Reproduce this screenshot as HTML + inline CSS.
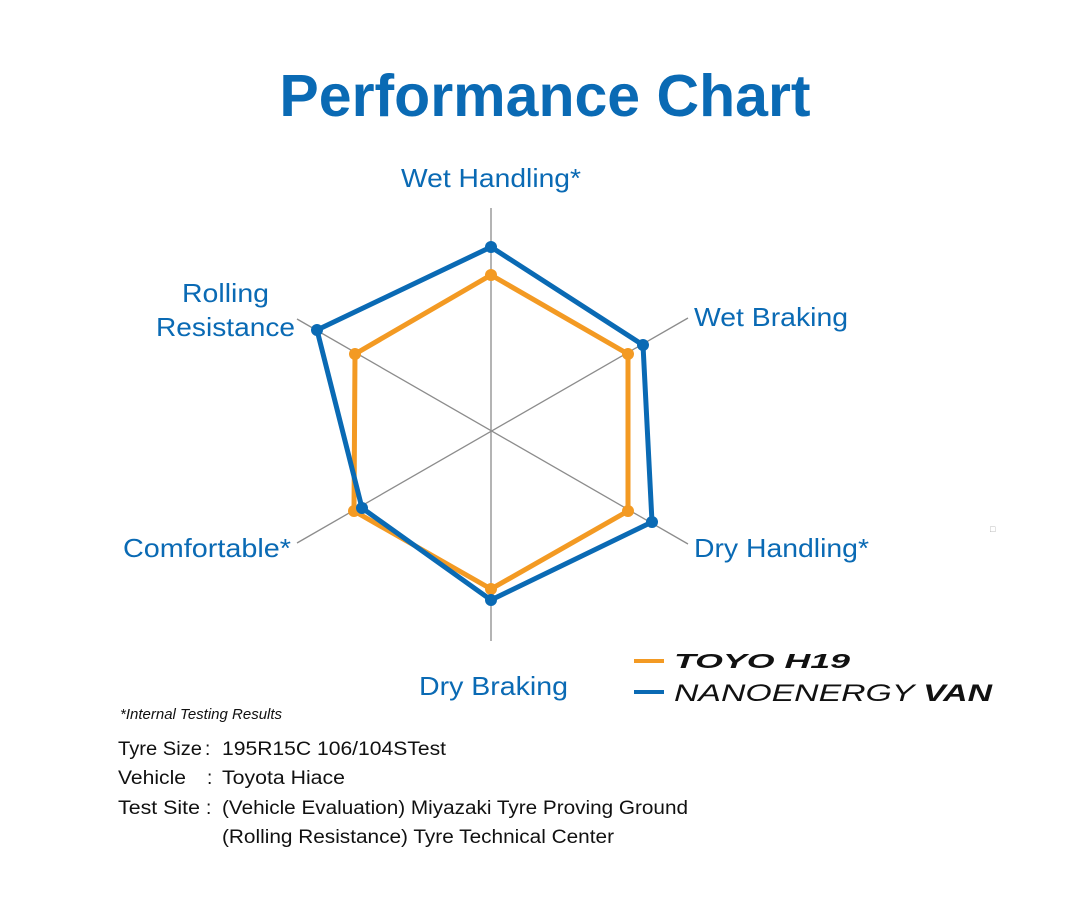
<!DOCTYPE html>
<html><head><meta charset="utf-8"><style>
body{margin:0;width:1087px;height:915px;background:#fff;overflow:hidden;font-family:"Liberation Sans",Arial,sans-serif}
svg{position:absolute;left:0;top:0}
</style></head><body>
<svg width="1087" height="915" viewBox="0 0 1087 915" font-family="Liberation Sans, Arial, sans-serif">
<text x="545" y="116" text-anchor="middle" font-size="59" font-weight="bold" fill="#0a6ab4">Performance Chart</text>
<g stroke="#8c8c8c" stroke-width="1.3">
<line x1="491" y1="208" x2="491" y2="641"/>
<line x1="297" y1="319" x2="688" y2="544"/>
<line x1="297" y1="543" x2="688" y2="318"/>
</g>
<g fill="#0a6ab4" font-size="26">
<text x="401" y="187" textLength="180" lengthAdjust="spacingAndGlyphs">Wet Handling*</text>
<text x="694" y="326" textLength="154" lengthAdjust="spacingAndGlyphs">Wet Braking</text>
<text x="694" y="557" textLength="175" lengthAdjust="spacingAndGlyphs">Dry Handling*</text>
<text x="419" y="695" textLength="149" lengthAdjust="spacingAndGlyphs">Dry Braking</text>
<text x="123" y="557" textLength="168" lengthAdjust="spacingAndGlyphs">Comfortable*</text>
<text x="182" y="302" textLength="87" lengthAdjust="spacingAndGlyphs">Rolling</text>
<text x="156" y="336" textLength="139" lengthAdjust="spacingAndGlyphs">Resistance</text>
</g>
<polygon points="491,275 628,354 628,511 491,589 354,511 355,354" fill="none" stroke="#f39a23" stroke-width="5" stroke-linejoin="round"/>
<g fill="#f39a23">
<circle cx="491" cy="275" r="6"/><circle cx="628" cy="354" r="6"/><circle cx="628" cy="511" r="6"/><circle cx="491" cy="589" r="6"/><circle cx="354" cy="511" r="6"/><circle cx="355" cy="354" r="6"/>
</g>
<polygon points="491,247 643,345 652,522 491,600 362,508 317,330" fill="none" stroke="#0a6ab4" stroke-width="5" stroke-linejoin="round"/>
<g fill="#0a6ab4">
<circle cx="491" cy="247" r="6"/><circle cx="643" cy="345" r="6"/><circle cx="652" cy="522" r="6"/><circle cx="491" cy="600" r="6"/><circle cx="362" cy="508" r="6"/><circle cx="317" cy="330" r="6"/>
</g>
<line x1="634" y1="661" x2="664" y2="661" stroke="#f39a23" stroke-width="4"/>
<line x1="634" y1="692" x2="664" y2="692" stroke="#0a6ab4" stroke-width="4"/>
<text x="674" y="668" font-size="20" font-weight="bold" font-style="italic" fill="#111" textLength="176" lengthAdjust="spacingAndGlyphs">TOYO H19</text>
<text x="674" y="701" font-size="24" font-style="italic" fill="#111" textLength="318" lengthAdjust="spacingAndGlyphs">NANOENERGY <tspan font-weight="bold">VAN</tspan></text>
<text x="990" y="532" font-size="9" fill="#aaa">□</text>
<text x="120" y="719" font-size="15" font-style="italic" fill="#111">*Internal Testing Results</text>
<g font-size="19" fill="#111">
<text x="118" y="755" textLength="84" lengthAdjust="spacingAndGlyphs">Tyre Size</text><text x="205" y="755">:</text>
<text x="222" y="755" textLength="224" lengthAdjust="spacingAndGlyphs">195R15C 106/104STest</text>
<text x="118" y="784" textLength="68" lengthAdjust="spacingAndGlyphs">Vehicle</text><text x="207" y="784">:</text>
<text x="222" y="784" textLength="123" lengthAdjust="spacingAndGlyphs">Toyota Hiace</text>
<text x="118" y="814" textLength="82" lengthAdjust="spacingAndGlyphs">Test Site</text><text x="206" y="814">:</text>
<text x="222" y="814" textLength="466" lengthAdjust="spacingAndGlyphs">(Vehicle Evaluation) Miyazaki Tyre Proving Ground</text>
<text x="222" y="843" textLength="392" lengthAdjust="spacingAndGlyphs">(Rolling Resistance) Tyre Technical Center</text>
</g>
</svg>
</body></html>
